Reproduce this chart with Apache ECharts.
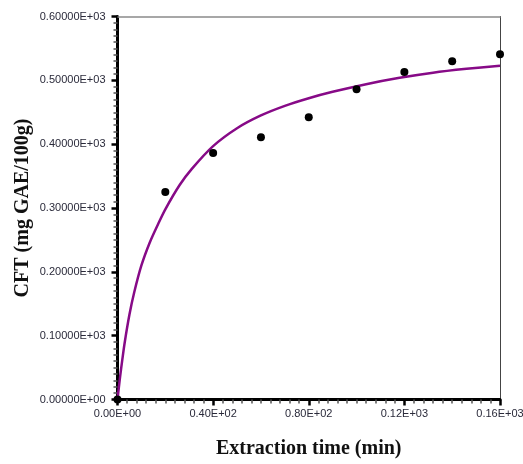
<!DOCTYPE html>
<html>
<head>
<meta charset="utf-8">
<script src="https://cdn.jsdelivr.net/npm/echarts@6/dist/echarts.min.js"></script>
<style>
  html, body { margin: 0; padding: 0; background: #fff; }
  #chart { width: 523px; height: 464px; }
</style>
</head>
<body>
<div id="chart"></div>
<script>
// Measured extraction yield (min, mg GAE/100g)
const measuredTime = [0, 20, 40, 60, 80, 100, 120, 140, 160];
const measuredCFT = [0, 325, 386, 411, 442, 486, 513, 530, 541];

// Fitted kinetic curve
const fitTime = [0, 1, 2, 3, 5, 7, 10, 13.5, 17, 20, 26, 31, 40, 50, 60, 70, 80, 90, 104, 118, 132, 146, 160];
const fitCFT = [0, 33, 62, 89, 133, 168, 210, 246, 275, 298, 336, 361, 397, 425, 445, 460, 472, 482, 494, 504, 512, 518, 523];

// Axis tick labels
const xTicks = [0, 40, 80, 120, 160];
const xTickLabels = ['0.00E+00', '0.40E+02', '0.80E+02', '0.12E+03', '0.16E+03'];
const yTicks = [0, 100, 200, 300, 400, 500, 600];
const yTickLabels = ['0.00000E+00', '0.10000E+03', '0.20000E+03', '0.30000E+03', '0.40000E+03', '0.50000E+03', '0.60000E+03'];

const labelFor = (ticks, labels) => v => {
  const i = ticks.findIndex(t => Math.abs(t - v) < 1e-6);
  return i >= 0 ? labels[i] : '';
};

const chart = echarts.init(document.getElementById('chart'), null, { renderer: 'canvas' });

const tickLabelStyle = { fontFamily: 'Liberation Sans, Arial, sans-serif', fontSize: 11, color: '#2a2a3a' };
const titleStyle = { fontFamily: 'Liberation Serif, Times New Roman, serif', fontSize: 20, fontWeight: 'bold', color: '#111' };

chart.setOption({
  animation: false,
  backgroundColor: '#fff',
  grid: { left: 117.5, right: 23, top: 16.5, bottom: 64.5, containLabel: false, outerBoundsMode: 'none' },
  xAxis: [
    {
      type: 'value', min: 0, max: 160, interval: 40, position: 'bottom',
      name: 'Extraction time (min)', nameLocation: 'middle', nameGap: 39, nameMoveOverlap: false,
      nameTextStyle: titleStyle,
      axisLine: { show: true, onZero: false, lineStyle: { color: '#000', width: 3 } },
      axisTick: { show: true, inside: false, length: 6, lineStyle: { color: '#000', width: 2.5 } },
      minorTick: { show: true, splitNumber: 10, length: 4, lineStyle: { color: '#555', width: 1.5 } },
      axisLabel: Object.assign({ margin: 9, formatter: labelFor(xTicks, xTickLabels) }, tickLabelStyle),
      splitLine: { show: false }
    },
    {
      type: 'value', min: 0, max: 160, position: 'top',
      axisLine: { show: true, onZero: false, lineStyle: { color: '#8a8a8a', width: 1.5 } },
      axisTick: { show: false }, axisLabel: { show: false }, splitLine: { show: false }
    }
  ],
  yAxis: [
    {
      type: 'value', min: 0, max: 600, interval: 100, position: 'left',
      name: 'CFT (mg GAE/100g)', nameLocation: 'middle', nameGap: 85, nameMoveOverlap: false,
      nameTextStyle: titleStyle,
      axisLine: { show: true, onZero: false, lineStyle: { color: '#000', width: 3 } },
      axisTick: { show: true, inside: false, length: 6, lineStyle: { color: '#000', width: 2.5 } },
      minorTick: { show: true, splitNumber: 10, length: 4, lineStyle: { color: '#555', width: 1.5 } },
      axisLabel: Object.assign({ margin: 12, formatter: labelFor(yTicks, yTickLabels) }, tickLabelStyle),
      splitLine: { show: false }
    },
    {
      type: 'value', min: 0, max: 600, position: 'right',
      axisLine: { show: true, onZero: false, lineStyle: { color: '#444', width: 1 } },
      axisTick: { show: false }, axisLabel: { show: false }, splitLine: { show: false }
    }
  ],
  series: [
    {
      type: 'line',
      data: fitTime.map((t, i) => [t, fitCFT[i]]),
      smooth: 0.3,
      showSymbol: false,
      lineStyle: { color: '#870a87', width: 2.5 },
      z: 2
    },
    {
      type: 'scatter',
      data: measuredTime.map((t, i) => [t, measuredCFT[i]]),
      symbol: 'circle',
      symbolSize: 8,
      itemStyle: { color: '#000', opacity: 1 },
      z: 3
    }
  ]
});
</script>
</body>
</html>
